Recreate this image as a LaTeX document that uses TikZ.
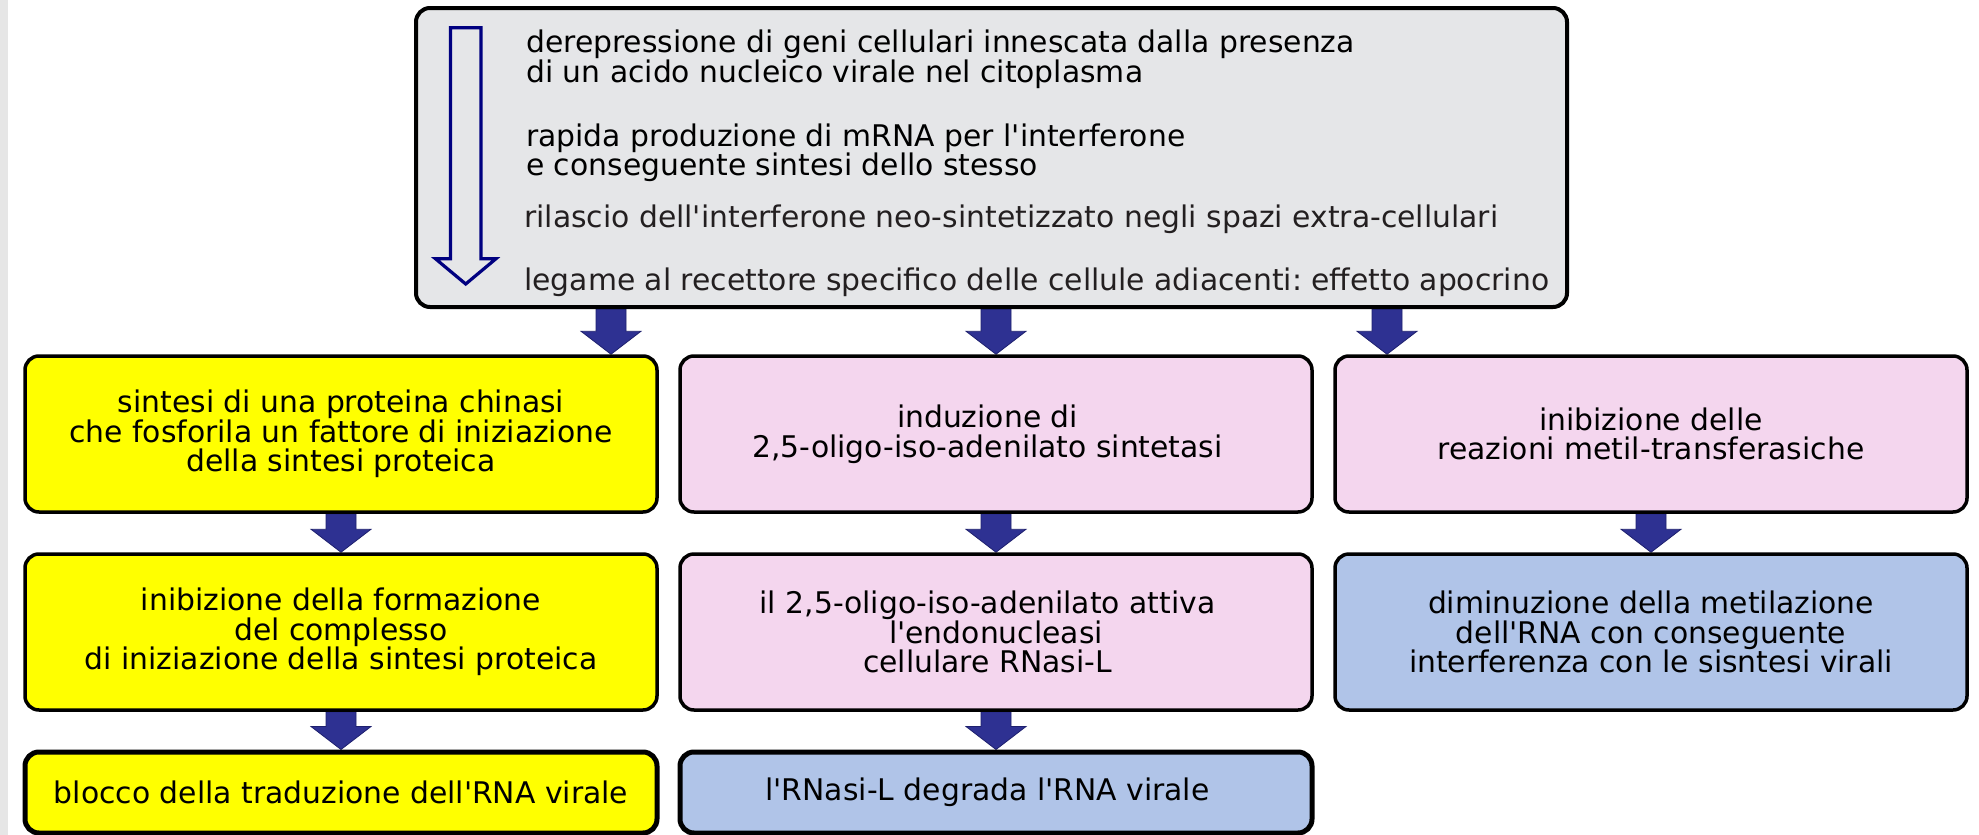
\documentclass[tikz,border=0pt]{standalone}
\usepackage{fontspec}
\setmainfont{DejaVu Sans}
\usetikzlibrary{calc,backgrounds}
\frenchspacing
\newcommand{\q}{\textquotesingle}
\newcommand{\tsp}{\hspace*{17pt}}
\definecolor{topgrey}{RGB}{229,230,232}
\definecolor{sidegrey}{RGB}{230,230,230}
\definecolor{boxyellow}{RGB}{255,255,0}
\definecolor{boxpink}{RGB}{244,214,238}
\definecolor{boxblue}{RGB}{176,196,232}
\definecolor{arrfill}{RGB}{46,49,146}
\definecolor{arrline}{RGB}{30,32,110}
\definecolor{navyline}{RGB}{0,0,128}
\definecolor{darktext}{RGB}{35,31,32}
\tikzset{
  txt/.style={font=\fontsize{29.8}{29.7}\selectfont, inner sep=0pt},
  box/.style={draw=black, line width=3.5pt, rounded corners=14pt, minimum width=632pt, align=center, txt},
  rowA/.style={box, minimum height=156pt},
  rowC/.style={box, minimum height=81pt, line width=5pt},
  blockarrow/.style={fill=arrfill, draw=arrline, line width=0.8pt, line join=miter},
}
\newcommand{\blockarr}[2]{%
  \path[blockarrow] let \p1=(#1), \p2=(#2) in
    (\x1-15pt,\y1) -- (\x1+15pt,\y1) -- (\x1+15pt,\y2+23pt) -- (\x1+30pt,\y2+23pt)
    -- (\x1,\y2) -- (\x1-30pt,\y2+23pt) -- (\x1-15pt,\y2+23pt) -- cycle;}
\begin{document}
\begin{tikzpicture}[x=1pt,y=-1pt]
\useasboundingbox (0,0) rectangle (1979,835);
\fill[sidegrey] (0,0) rectangle (7.5,835);

% top box
\node[draw=black, fill=topgrey, line width=4pt, rounded corners=14pt,
      minimum width=1151pt, minimum height=299pt, inner sep=0pt] (top) at (991.5,157.5) {};
\path[draw=navyline, fill=topgrey, line width=3.2pt, line join=miter]
  (450.5,27.8) -- (481,27.8) -- (481,258.7) -- (496,258.7) -- (465.7,284)
  -- (435.4,258.7) -- (450.5,258.7) -- cycle;
\node[txt, anchor=west, align=left] (t1) at (526,59.3)
  {derepressione di geni cellulari innescata dalla presenza\\di un acido nucleico virale nel citoplasma};
\node[txt, anchor=west, align=left] (t2) at (526,152.7)
  {rapida produzione di mRNA per l\q interferone\\e conseguente sintesi dello stesso};
\node[txt, anchor=west, text=darktext] (t3) at (524,219.6)
  {rilascio dell\q interferone neo-sintetizzato negli spazi extra-cellulari};
\node[txt, anchor=west, text=darktext] (t4) at (524,282.7)
  {legame al recettore specifico delle cellule adiacenti: effetto apocrino};

% row 1
\node[rowA, fill=boxyellow] (l1) at (341,434)
  {sintesi di una proteina chinasi\\che fosforila un fattore di iniziazione\\della sintesi proteica};
\node[rowA, fill=boxpink] (m1) at (996,434)
  {induzione di\tsp\\2,5-oligo-iso-adenilato sintetasi\tsp};
\node[rowA, fill=boxpink] (r1) at (1651,434)
  {inibizione delle\\reazioni metil-transferasiche};
% row 2
\node[rowA, fill=boxyellow] (l2) at (341,632)
  {inibizione della formazione\\del complesso\\di iniziazione della sintesi proteica};
\node[rowA, fill=boxpink] (m2) at (996,632)
  {il 2,5-oligo-iso-adenilato attiva\tsp\\l\q endonucleasi\tsp\\cellulare RNasi-L\tsp};
\node[rowA, fill=boxblue] (r2) at (1651,632)
  {diminuzione della metilazione\\dell\q RNA con conseguente\\interferenza con le sisntesi virali};
% row 3
\node[rowC, fill=boxyellow] (l3) at (341,792.5)
  {blocco della traduzione dell\q RNA virale};
\node[rowC, fill=boxblue] (m3) at (996,792.5)
  {l\q RNasi-L degrada l\q RNA virale\tsp};

% arrows
\coordinate (ax1) at (611,0);
\coordinate (ax2) at (996,0);
\coordinate (ax3) at (1387,0);
\begin{scope}[on background layer]
\blockarr{top.south -| ax1}{ax1 |- l1.north}
\blockarr{top.south -| ax2}{ax2 |- m1.north}
\blockarr{top.south -| ax3}{ax3 |- r1.north}
\blockarr{l1.south}{l2.north}
\blockarr{m1.south}{m2.north}
\blockarr{r1.south}{r2.north}
\blockarr{l2.south}{l3.north}
\blockarr{m2.south}{m3.north}
\end{scope}
\end{tikzpicture}
\end{document}
